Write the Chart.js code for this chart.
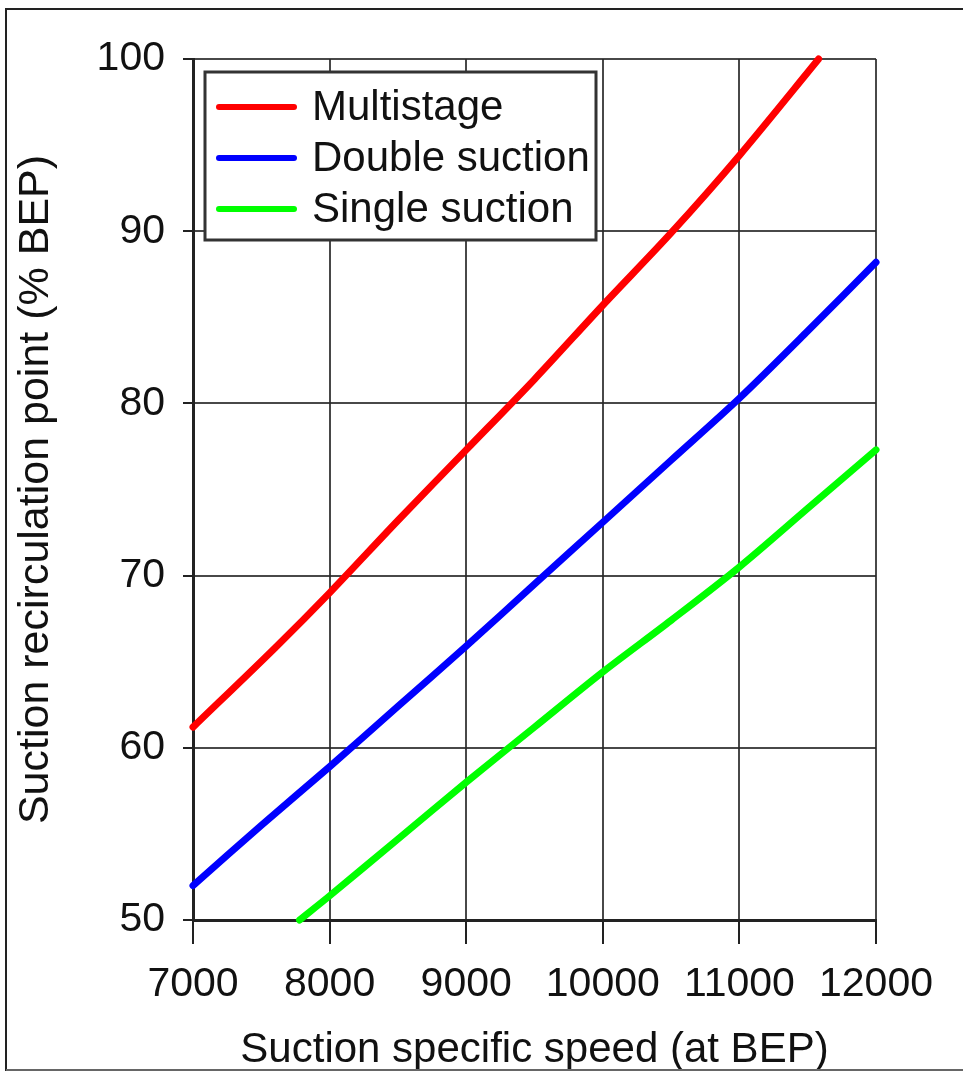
<!DOCTYPE html>
<html>
<head>
<meta charset="utf-8">
<script src="https://cdn.jsdelivr.net/npm/chart.js@4.4.1/dist/chart.umd.min.js"></script>
<style>
  html, body { margin: 0; padding: 0; background: #ffffff; }
  #wrap { width: 963px; height: 1072px; position: relative; }
</style>
</head>
<body>
<div id="wrap"><canvas id="c" width="963" height="1072"></canvas></div>
<script>
// ---- data ----
const seriesNames = ["Multistage", "Double suction", "Single suction"];
const seriesColors = ["#ff0000", "#0000ff", "#00ff00"];

const multistageX = [7000, 7600, 8000, 8500, 9000, 9500, 10000, 10500, 11000, 11580];
const multistageY = [61.2, 65.8, 69.0, 73.2, 77.3, 81.4, 85.7, 89.9, 94.4, 100.0];

const doubleX = [7000, 7500, 8000, 8500, 9000, 9500, 10000, 10500, 11000, 11500, 12000];
const doubleY = [52.0, 55.5, 58.9, 62.4, 65.9, 69.5, 73.1, 76.7, 80.3, 84.2, 88.2];

const singleX = [7780, 8000, 8500, 9000, 9500, 10000, 10500, 11000, 11500, 12000];
const singleY = [50.0, 51.4, 54.7, 58.0, 61.2, 64.4, 67.4, 70.5, 73.9, 77.3];

const xTicks = [7000, 8000, 9000, 10000, 11000, 12000];
const yTicks = [50, 60, 70, 80, 90, 100];

const xTitle = "Suction specific speed (at BEP)";
const yTitle = "Suction recirculation point (% BEP)";

function pts(xs, ys) { return xs.map((x, i) => ({ x: x, y: ys[i] })); }

const FONT = "'Liberation Sans', Arial, sans-serif";

const legendPlugin = {
  id: 'boxLegend',
  afterDatasetsDraw(chart) {
    const ctx = chart.ctx;
    const bx = 205, by = 72, bw = 391, bh = 168;
    ctx.save();
    ctx.fillStyle = '#ffffff';
    ctx.fillRect(bx, by, bw, bh);
    ctx.strokeStyle = '#333333';
    ctx.lineWidth = 3;
    ctx.strokeRect(bx, by, bw, bh);
    ctx.font = '42px ' + FONT;
    ctx.textBaseline = 'middle';
    ctx.textAlign = 'left';
    chart.data.datasets.forEach((ds, i) => {
      const y = 107 + i * 51;
      ctx.strokeStyle = ds.borderColor;
      ctx.lineWidth = 6;
      ctx.lineCap = 'round';
      ctx.beginPath();
      ctx.moveTo(219, y);
      ctx.lineTo(294, y);
      ctx.stroke();
      ctx.fillStyle = '#111111';
      ctx.fillText(ds.label, 312, y + 1);
    });
    ctx.restore();
  }
};

const framePlugin = {
  id: 'frame',
  afterDraw(chart) {
    const ctx = chart.ctx;
    ctx.save();
    ctx.strokeStyle = '#222222';
    ctx.lineWidth = 2;
    ctx.beginPath();
    ctx.moveTo(6, 1071);
    ctx.lineTo(6, 9);
    ctx.lineTo(963, 9);
    ctx.stroke();
    ctx.beginPath();
    ctx.moveTo(6, 1070);
    ctx.lineTo(963, 1070);
    ctx.strokeStyle = '#666666';
    ctx.stroke();
    ctx.restore();
  }
};

new Chart(document.getElementById('c'), {
  type: 'line',
  data: {
    datasets: [
      { label: seriesNames[0], data: pts(multistageX, multistageY), borderColor: seriesColors[0] },
      { label: seriesNames[1], data: pts(doubleX, doubleY), borderColor: seriesColors[1] },
      { label: seriesNames[2], data: pts(singleX, singleY), borderColor: seriesColors[2] }
    ].map(d => Object.assign(d, {
      borderWidth: 7, pointRadius: 0, tension: 0.3, fill: false,
      borderCapStyle: 'round', borderJoinStyle: 'round', clip: false
    }))
  },
  options: {
    responsive: false,
    animation: false,
    devicePixelRatio: 1,
    layout: { padding: { left: 0, top: 59, right: 87, bottom: 0 } },
    plugins: { legend: { display: false }, tooltip: { enabled: false } },
    scales: {
      x: {
        type: 'linear', min: 7000, max: 12000,
        afterBuildTicks: s => { s.ticks = xTicks.map(v => ({ value: v })); },
        afterFit: s => { s.height = 152; },
        grid: { color: 'rgba(40,40,40,0.85)', lineWidth: 2, tickLength: 24, tickColor: '#222' },
        border: { color: '#222', width: 3 },
        ticks: { color: '#111', font: { family: FONT, size: 41 }, padding: 16, maxRotation: 0, autoSkip: false,
                 callback: v => String(v) },
        title: { display: true, text: xTitle, color: '#111', font: { family: FONT, size: 42, lineHeight: 1.05 }, padding: { top: 0, bottom: 0 } }
      },
      y: {
        type: 'linear', min: 50, max: 100,
        afterBuildTicks: s => { s.ticks = yTicks.map(v => ({ value: v })); },
        afterFit: s => { s.width = 193; },
        grid: { color: 'rgba(40,40,40,0.85)', lineWidth: 2, tickLength: 10, tickColor: '#222' },
        border: { color: '#222', width: 3 },
        ticks: { color: '#111', font: { family: FONT, size: 41 }, padding: 18, autoSkip: false,
                 callback: v => String(v) },
        title: { display: true, text: yTitle, color: '#111', font: { family: FONT, size: 43, lineHeight: 1.05 }, padding: { top: 14, bottom: 0 } }
      }
    }
  },
  plugins: [legendPlugin, framePlugin]
});
</script>
</body>
</html>
